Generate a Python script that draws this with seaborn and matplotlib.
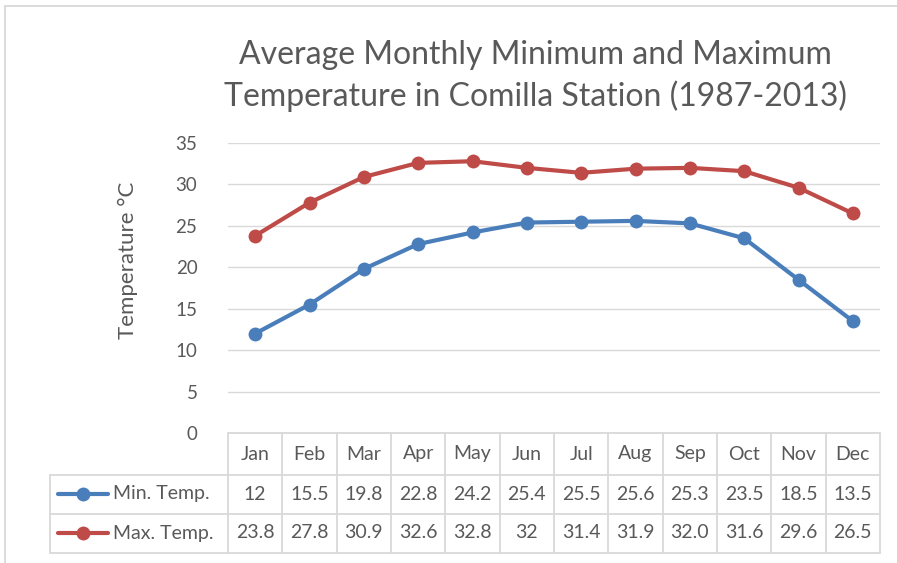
import numpy as np
import pandas as pd
import matplotlib
matplotlib.use("Agg")
import matplotlib.pyplot as plt
import seaborn as sns
from matplotlib.transforms import blended_transform_factory
from matplotlib.lines import Line2D

months = ["Jan", "Feb", "Mar", "Apr", "May", "Jun", "Jul", "Aug", "Sep", "Oct", "Nov", "Dec"]
min_temp = [12, 15.5, 19.8, 22.8, 24.2, 25.4, 25.5, 25.6, 25.3, 23.5, 18.5, 13.5]
max_temp = [23.8, 27.8, 30.9, 32.6, 32.8, 32, 31.4, 31.9, 32.0, 31.6, 29.6, 26.5]
min_labels = ["12", "15.5", "19.8", "22.8", "24.2", "25.4", "25.5", "25.6", "25.3", "23.5", "18.5", "13.5"]
max_labels = ["23.8", "27.8", "30.9", "32.6", "32.8", "32", "31.4", "31.9", "32.0", "31.6", "29.6", "26.5"]
series_names = ["Min. Temp.", "Max. Temp."]
colors = ["#4A7EBB", "#BE4B48"]
yticks = [0, 5, 10, 15, 20, 25, 30, 35]

sns.set_theme(style="white")
plt.rcParams['font.family'] = ['Lato', 'DejaVu Sans']
txt = "#595959"
grid_c = "#D9D9D9"

W, H = 897, 563
fig = plt.figure(figsize=(W / 100, H / 100), dpi=100)
L, R, T, B = 228, 880, 143, 433
ax = fig.add_axes([L / W, 1 - B / H, (R - L) / W, (B - T) / H])

x = np.arange(len(months))
df = pd.DataFrame({"x": np.concatenate([x, x]),
                   "t": min_temp + max_temp,
                   "s": [series_names[0]] * 12 + [series_names[1]] * 12})
for name, c in zip(series_names, colors):
    d = df[df.s == name]
    sns.lineplot(data=d, x="x", y="t", color=c, marker="o", markersize=10,
                 markeredgewidth=0, linewidth=3, ax=ax, legend=False)

ax.set_xlim(-0.5, 11.5)
ax.set_ylim(0, 35)
ax.set_yticks(yticks)
ax.set_yticklabels([str(v) for v in yticks], color=txt, fontsize=13.5)
ax.tick_params(axis="y", length=0, pad=22)
ax.set_xticks([])
ax.set_xlabel("")
ax.set_ylabel("Temperature °C", color=txt, fontsize=16)
ax.yaxis.set_label_coords((128 - L) / (R - L), (B - 260) / (B - T))
ax.yaxis.label.set_va("center")
for s in ax.spines.values():
    s.set_visible(False)
ax.grid(axis="y", color=grid_c, linewidth=1)
ax.set_axisbelow(True)

# data table
tr = blended_transform_factory(ax.transData, ax.transAxes)
ph = B - T
cw = (R - L) / 12
def yf(py):
    return (B - py) / ph
def xd(px):
    return -0.5 + (px - L) / cw
row_edges = [433, 475, 514, 553]
left_x = xd(50)
lk = dict(color=grid_c, linewidth=1.3, transform=tr, clip_on=False)
ax.add_line(Line2D([-0.5, 11.5], [yf(433)] * 2, **lk))
for py in row_edges[1:]:
    ax.add_line(Line2D([left_x, 11.5], [yf(py)] * 2, **lk))
for k in range(13):
    ax.add_line(Line2D([k - 0.5] * 2, [yf(433), yf(553)], **lk))
ax.add_line(Line2D([left_x] * 2, [yf(475), yf(553)], **lk))

hc = yf(454)
r1 = yf(494)
r2 = yf(533)
fs = 14
for i, m in enumerate(months):
    ax.text(i, hc, m, transform=tr, ha="center", va="center", color=txt, fontsize=fs)
    ax.text(i, r1, min_labels[i], transform=tr, ha="center", va="center", color=txt, fontsize=fs)
    ax.text(i, r2, max_labels[i], transform=tr, ha="center", va="center", color=txt, fontsize=fs)

for yy, name, c in zip([r1, r2], series_names, colors):
    ax.add_line(Line2D([xd(58), xd(108)], [yy, yy], color=c, linewidth=3, transform=tr, clip_on=False))
    ax.add_line(Line2D([xd(83)], [yy], color=c, marker="o", markersize=10, markeredgewidth=0,
                       transform=tr, clip_on=False))
    ax.text(xd(113), yy, name, transform=tr, ha="left", va="center", color=txt, fontsize=fs)

# title
fig.text(535 / W, 1 - 76 / H, "Average Monthly Minimum and Maximum\nTemperature in Comilla Station (1987-2013)",
         ha="center", va="center", color=txt, fontsize=23, linespacing=1.4)

# chart border (top and left visible)
fig.add_artist(Line2D([5 / W, 1], [1 - 6 / H] * 2, color="#D9D9D9", linewidth=1.3))
fig.add_artist(Line2D([5 / W] * 2, [0, 1 - 6 / H], color="#D9D9D9", linewidth=1.3))

fig.savefig("out.png", dpi=100)
